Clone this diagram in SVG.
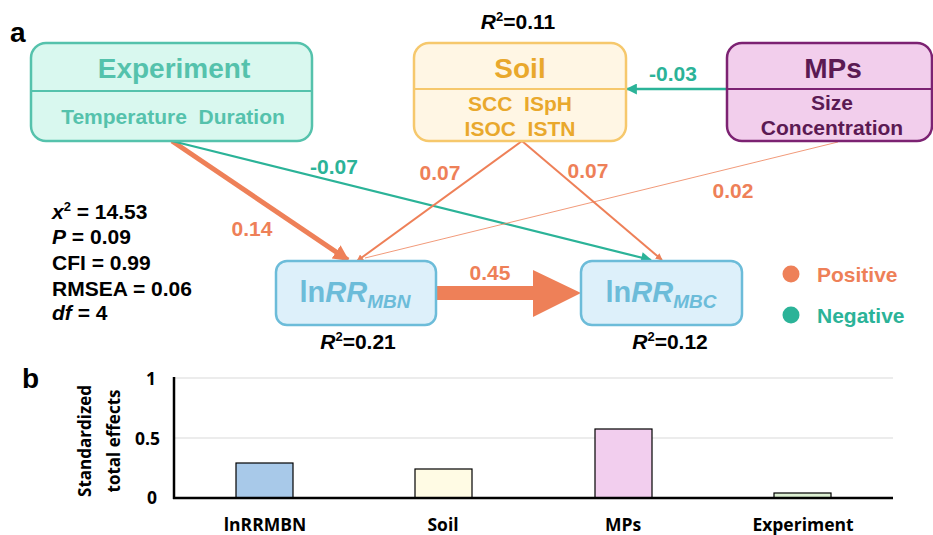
<svg xmlns="http://www.w3.org/2000/svg" width="933" height="535" viewBox="0 0 933 535">
<defs>
<style>
text{font-family:"Liberation Sans",Arial,sans-serif;font-weight:bold}
.lbl{font-size:21px}
.pos{fill:#ee8058}
.neg{fill:#2bb398}
.blk{fill:#000}
.ax{font-family:"Open Sans","Liberation Sans",sans-serif;font-size:17.5px;fill:#000}
.bar{stroke:#000;stroke-width:1.2}
</style>
<marker id="ao" viewBox="0 0 10 10" refX="9" refY="5" markerWidth="7" markerHeight="7" markerUnits="userSpaceOnUse" orient="auto"><path d="M0,0 L10,5 L0,10 z" fill="#ee8058"/></marker>
<marker id="ao2" viewBox="0 0 10 10" refX="9" refY="5" markerWidth="3.2" markerHeight="3.2" orient="auto"><path d="M0,0 L10,5 L0,10 z" fill="#ee8058"/></marker>
<marker id="at" viewBox="0 0 10 10" refX="9" refY="5" markerWidth="13" markerHeight="11" markerUnits="userSpaceOnUse" orient="auto"><path d="M0,0 L10,5 L0,10 z" fill="#2bb398"/></marker>
</defs>
<rect width="933" height="535" fill="#fff"/>
<text x="10" y="42" style="font-size:28px">a</text>
<text x="22" y="388" style="font-size:28px">b</text>

<g id="connectors">
<line x1="172" y1="141" x2="348" y2="260" stroke="#ee8058" stroke-width="5" marker-end="url(#ao2)"/>
<line x1="172" y1="141" x2="651" y2="260" stroke="#2bb398" stroke-width="2.2" marker-end="url(#at)"/>
<line x1="522" y1="141" x2="357" y2="261" stroke="#ee8058" stroke-width="2" marker-end="url(#ao)"/>
<line x1="522" y1="141" x2="662" y2="260" stroke="#ee8058" stroke-width="2" marker-end="url(#ao)"/>
<line x1="838" y1="142" x2="365" y2="258" stroke="#ee8058" stroke-width="0.8"/>
<line x1="727" y1="89" x2="627" y2="89" stroke="#2bb398" stroke-width="2.5" marker-end="url(#at)"/>
<path d="M436,286 L533,286 L533,270 L581,293 L533,317 L533,300 L436,300 z" fill="#ee8058"/>
<text x="334" y="174" class="lbl neg" text-anchor="middle">-0.07</text>
<text x="673" y="81" class="lbl neg" text-anchor="middle">-0.03</text>
<text x="440" y="180" class="lbl pos" text-anchor="middle">0.07</text>
<text x="588" y="178" class="lbl pos" text-anchor="middle">0.07</text>
<text x="733" y="198" class="lbl pos" text-anchor="middle">0.02</text>
<text x="252" y="236" class="lbl pos" text-anchor="middle">0.14</text>
<text x="490" y="280" class="lbl pos" text-anchor="middle">0.45</text>
</g>

<g id="experiment">
<rect x="31" y="43" width="281" height="98" rx="15" fill="#d9f8ef" stroke="#55c2ac" stroke-width="2.5"/>
<line x1="31" y1="91" x2="312" y2="91" stroke="#55c2ac" stroke-width="2"/>
<text x="174" y="78" text-anchor="middle" style="font-size:28px" fill="#55c2ac">Experiment</text>
<text x="173" y="124" text-anchor="middle" style="font-size:21px;white-space:pre" fill="#55c2ac" xml:space="preserve">Temperature  Duration</text>
</g>

<g id="soil">
<rect x="414" y="43" width="212" height="98" rx="15" fill="#fff6e4" stroke="#f6c86c" stroke-width="2.5"/>
<line x1="414" y1="89" x2="626" y2="89" stroke="#f6c86c" stroke-width="2"/>
<text x="520" y="78" text-anchor="middle" style="font-size:28px" fill="#e9a82c">Soil</text>
<text x="520" y="111" text-anchor="middle" style="font-size:21px;white-space:pre" fill="#e9a82c" xml:space="preserve">SCC  ISpH</text>
<text x="520" y="136" text-anchor="middle" style="font-size:21px;white-space:pre" fill="#e9a82c" xml:space="preserve">ISOC  ISTN</text>
<text x="518" y="29" text-anchor="middle" style="font-size:21px" fill="#000"><tspan font-style="italic">R</tspan><tspan font-size="13" dy="-8">2</tspan><tspan dy="8">=0.11</tspan></text>
</g>

<g id="mps">
<rect x="727" y="43" width="205" height="98" rx="15" fill="#f2ceec" stroke="#7c2272" stroke-width="2.5"/>
<line x1="727" y1="89" x2="932" y2="89" stroke="#7c2272" stroke-width="2"/>
<text x="833" y="78" text-anchor="middle" style="font-size:28px" fill="#5b1a53">MPs</text>
<text x="832" y="110" text-anchor="middle" style="font-size:21px" fill="#5b1a53">Size</text>
<text x="832" y="135" text-anchor="middle" style="font-size:21px" fill="#5b1a53">Concentration</text>
</g>

<g id="lnrr-mbn">
<rect x="276" y="261" width="160" height="64" rx="11" fill="#ddf0fa" stroke="#6cbcd9" stroke-width="2.5"/>
<text x="355" y="302" text-anchor="middle" style="font-size:29px" fill="#6cbcd9">ln<tspan font-style="italic">RR</tspan><tspan font-style="italic" font-size="19" dy="6">MBN</tspan></text>
<text x="358" y="349" text-anchor="middle" style="font-size:21px" fill="#000"><tspan font-style="italic">R</tspan><tspan font-size="13" dy="-8">2</tspan><tspan dy="8">=0.21</tspan></text>
</g>

<g id="lnrr-mbc">
<rect x="581" y="261" width="161" height="64" rx="11" fill="#ddf0fa" stroke="#6cbcd9" stroke-width="2.5"/>
<text x="661" y="302" text-anchor="middle" style="font-size:29px" fill="#6cbcd9">ln<tspan font-style="italic">RR</tspan><tspan font-style="italic" font-size="19" dy="6">MBC</tspan></text>
<text x="670" y="349" text-anchor="middle" style="font-size:21px" fill="#000"><tspan font-style="italic">R</tspan><tspan font-size="13" dy="-8">2</tspan><tspan dy="8">=0.12</tspan></text>
</g>

<g id="legend">
<circle cx="791" cy="274" r="8.5" fill="#ee8058"/>
<text x="817" y="282" class="lbl pos">Positive</text>
<circle cx="791" cy="315" r="8.5" fill="#2bb398"/>
<text x="817" y="323" class="lbl neg">Negative</text>
</g>

<g id="stats" class="blk">
<text x="52" y="219" class="lbl"><tspan font-style="italic">x</tspan><tspan font-size="13" dy="-8">2</tspan><tspan dy="8"> = 14.53</tspan></text>
<text x="52" y="244" class="lbl"><tspan font-style="italic">P</tspan> = 0.09</text>
<text x="52" y="270" class="lbl">CFI = 0.99</text>
<text x="52" y="296" class="lbl">RMSEA = 0.06</text>
<text x="52" y="320" class="lbl"><tspan font-style="italic">df</tspan> = 4</text>
</g>

<g id="chart">
<line x1="175" y1="378" x2="893" y2="378" stroke="#d9d9d9" stroke-width="1"/>
<line x1="175" y1="438" x2="893" y2="438" stroke="#d9d9d9" stroke-width="1"/>
<rect x="236" y="463" width="57" height="35" class="bar" fill="#a8c9e9"/>
<rect x="415" y="469" width="57" height="29" class="bar" fill="#fffbe4"/>
<rect x="595" y="429" width="57" height="69" class="bar" fill="#f2ceee"/>
<rect x="774" y="493" width="57" height="5" class="bar" fill="#dcefd2"/>
<line x1="174" y1="377" x2="174" y2="499" stroke="#000" stroke-width="2.5"/>
<line x1="173" y1="498" x2="893" y2="498" stroke="#000" stroke-width="2.5"/>
<text x="156" y="385" class="ax" text-anchor="end">1</text>
<text x="160" y="445" class="ax" text-anchor="end">0.5</text>
<text x="157" y="504" class="ax" text-anchor="end">0</text>
<text transform="translate(91,441) rotate(-90)" text-anchor="middle" class="ax" style="font-size:17px">Standardized</text>
<text transform="translate(120,441) rotate(-90)" text-anchor="middle" class="ax" style="font-size:17px">total effects</text>
<text x="265" y="531" class="ax" text-anchor="middle">lnRRMBN</text>
<text x="443" y="531" class="ax" text-anchor="middle">Soil</text>
<text x="623" y="531" class="ax" text-anchor="middle">MPs</text>
<text x="803" y="531" class="ax" text-anchor="middle">Experiment</text>
</g>
</svg>
